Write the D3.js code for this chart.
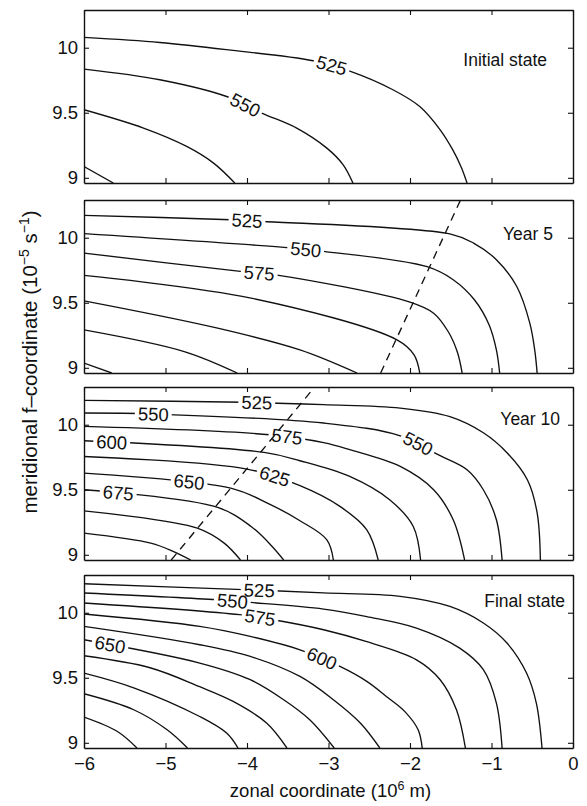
<!DOCTYPE html>
<html>
<head>
<meta charset="utf-8">
<script src="https://cdn.jsdelivr.net/npm/d3@7"></script>
<style>
  body { margin: 0; background: #fff; }
  svg text { font-family: "Liberation Sans", Arial, Helvetica, sans-serif; fill: #111; }
</style>
</head>
<body>
<svg id="chart" width="587" height="806"></svg>
<script>
// ---- data: contour lines of each state, as [zonal x (10^6 m), f (10^-5 s^-1)] ----
const initialContours = [
  { level: 525, pts: [[-6, 10.079], [-5.07, 10.04], [-4.25, 9.985], [-3.19, 9.90], [-2.73, 9.818], [-2.21, 9.677], [-1.88, 9.548], [-1.63, 9.369], [-1.48, 9.22], [-1.37, 9.08], [-1.30, 8.96]] },
  { level: 550, pts: [[-6, 9.836], [-5.07, 9.754], [-4.25, 9.625], [-3.82, 9.498], [-3.39, 9.382], [-3.02, 9.228], [-2.82, 9.10], [-2.70, 8.96]] },
  { level: 575, pts: [[-6, 9.523], [-5.27, 9.382], [-4.74, 9.241], [-4.41, 9.113], [-4.15, 8.96]] },
  { level: 600, pts: [[-6, 9.087], [-5.64, 8.96]] }
];
const initialLabels = [[525, -2.96], [550, -4.02]];

const year5Contours = [
  { level: 525, pts: [[-6, 10.172], [-4.20, 10.138], [-3.79, 10.125], [-1.50, 10.028], [-1.22, 9.959], [-0.94, 9.831], [-0.69, 9.625], [-0.53, 9.344], [-0.47, 9.138], [-0.44, 8.96]] },
  { level: 550, pts: [[-6, 10.031], [-3.46, 9.921], [-3.06, 9.895], [-1.79, 9.777], [-1.47, 9.677], [-1.21, 9.523], [-1.03, 9.331], [-0.94, 9.138], [-0.90, 8.96]] },
  { level: 575, pts: [[-6, 9.882], [-4.08, 9.741], [-3.65, 9.715], [-2.0, 9.505], [-1.71, 9.42], [-1.53, 9.277], [-1.42, 9.123], [-1.36, 8.96]] },
  { level: 600, pts: [[-6, 9.71], [-3.95, 9.536], [-2.16, 9.215], [-1.95, 9.10], [-1.88, 8.96]] },
  { level: 625, pts: [[-6, 9.515], [-4.36, 9.305], [-3.35, 9.138], [-2.65, 8.96]] },
  { level: 650, pts: [[-6, 9.292], [-4.77, 9.125], [-4.12, 8.96]] },
  { level: 675, pts: [[-6, 9.036], [-5.66, 8.96]] }
];
const year5Labels = [[525, -4.0], [550, -3.28], [575, -3.85]];
const year5Front = [[-2.36, 8.96], [-1.38, 10.29]];

const year10Contours = [
  { level: 525, pts: [[-6, 10.187], [-4.04, 10.173], [-3.06, 10.154], [-2.12, 10.128], [-1.51, 10.062], [-1.10, 9.938], [-0.81, 9.785], [-0.56, 9.577], [-0.44, 9.323], [-0.40, 8.96]] },
  { level: 550, pts: [[-6, 10.09], [-5.15, 10.082], [-3.06, 10.013], [-2.12, 9.915], [-1.63, 9.762], [-1.30, 9.654], [-1.10, 9.50], [-0.94, 9.269], [-0.87, 8.96]] },
  { level: 575, pts: [[-6, 9.987], [-3.72, 9.923], [-3.06, 9.862], [-2.74, 9.808], [-2.12, 9.679], [-1.71, 9.50], [-1.47, 9.269], [-1.33, 8.96]] },
  { level: 600, pts: [[-6, 9.877], [-3.79, 9.787], [-3.35, 9.723], [-2.74, 9.602], [-2.25, 9.423], [-1.96, 9.218], [-1.87, 8.96]] },
  { level: 625, pts: [[-6, 9.756], [-4.0, 9.659], [-3.35, 9.531], [-2.86, 9.372], [-2.53, 9.192], [-2.39, 8.96]] },
  { level: 650, pts: [[-6, 9.628], [-4.20, 9.513], [-3.75, 9.398], [-3.35, 9.262], [-3.02, 9.115], [-2.94, 8.96]] },
  { level: 675, pts: [[-6, 9.50], [-4.36, 9.364], [-3.95, 9.218], [-3.70, 9.07], [-3.55, 8.96]] },
  { level: 700, pts: [[-6, 9.338], [-4.61, 9.205], [-4.28, 9.09], [-4.08, 8.96]] },
  { level: 725, pts: [[-6, 9.167], [-5.18, 9.09], [-4.90, 9.025], [-4.69, 8.96]] }
];
const year10Labels = [[525, -3.88], [550, -5.15], [550, -1.90], [575, -3.51], [600, -5.66], [625, -3.66], [650, -4.71], [675, -5.58]];
const year10Front = [[-4.93, 8.96], [-3.17, 10.29]];

const finalContours = [
  { level: 525, pts: [[-6, 10.223], [-4.04, 10.177], [-3.67, 10.169], [-3.06, 10.152], [-2.12, 10.126], [-1.51, 10.048], [-1.10, 9.921], [-0.81, 9.767], [-0.57, 9.536], [-0.45, 9.305], [-0.38, 8.96]] },
  { level: 550, pts: [[-6, 10.152], [-4.37, 10.10], [-4.0, 10.081], [-3.06, 10.028], [-2.53, 9.97], [-1.92, 9.882], [-1.39, 9.728], [-1.10, 9.562], [-0.94, 9.305], [-0.87, 8.96]] },
  { level: 575, pts: [[-6, 10.075], [-4.09, 9.985], [-3.64, 9.942], [-3.06, 9.869], [-2.53, 9.777], [-1.92, 9.638], [-1.63, 9.485], [-1.43, 9.254], [-1.32, 8.96]] },
  { level: 600, pts: [[-6, 9.99], [-4.58, 9.895], [-3.96, 9.818], [-3.35, 9.715], [-2.86, 9.587], [-2.53, 9.472], [-2.29, 9.356], [-2.06, 9.238], [-1.90, 9.10], [-1.85, 8.96]] },
  { level: 625, pts: [[-6, 9.895], [-4.58, 9.754], [-3.96, 9.664], [-3.35, 9.51], [-2.94, 9.331], [-2.61, 9.152], [-2.37, 8.96]] },
  { level: 650, pts: [[-6, 9.792], [-4.58, 9.613], [-3.96, 9.485], [-3.55, 9.331], [-3.23, 9.177], [-2.93, 8.96]] },
  { level: 675, pts: [[-6, 9.669], [-5.19, 9.577], [-4.58, 9.431], [-4.17, 9.318], [-3.76, 9.152], [-3.51, 8.96]] },
  { level: 700, pts: [[-6, 9.536], [-5.39, 9.423], [-4.58, 9.202], [-4.25, 9.075], [-4.11, 8.96]] },
  { level: 725, pts: [[-6, 9.377], [-5.39, 9.254], [-4.98, 9.10], [-4.73, 8.96]] },
  { level: 750, pts: [[-6, 9.198], [-5.59, 9.087], [-5.35, 8.96]] }
];
const finalLabels = [[525, -3.85], [550, -4.18], [575, -3.84], [600, -3.08], [650, -5.68]];

const panelTitles = ["Initial state", "Year 5", "Year 10", "Final state"];
const xTicks = [-6, -5, -4, -3, -2, -1, 0];
const xTickLabels = ["\u22126", "\u22125", "\u22124", "\u22123", "\u22122", "\u22121", "0"];
const yTicks = [9, 9.5, 10];
const yTickLabels = ["9", "9.5", "10"];
const xDomain = [-6, 0];
const yDomain = [8.96, 10.29];

// ---- layout ----
const W = 587, H = 806;
const plotLeft = 84, plotRight = 573, panelH = 173;
const panelTops = [10, 200, 387, 575];
const titleAnchors = [[547, 56], [553, 40], [560, 38], [565, 32]]; // right end, baseline offset from panel top
const fontSize = 18.5;
const lineW = 1.35;

const panels = [
  { title: panelTitles[0], contours: initialContours, labels: initialLabels, front: null },
  { title: panelTitles[1], contours: year5Contours, labels: year5Labels, front: year5Front },
  { title: panelTitles[2], contours: year10Contours, labels: year10Labels, front: year10Front },
  { title: panelTitles[3], contours: finalContours, labels: finalLabels, front: null }
];

const svg = d3.select("#chart");
const defs = svg.append("defs");
const x = d3.scaleLinear().domain(xDomain).range([plotLeft, plotRight]);

panels.forEach((p, i) => {
  const top = panelTops[i];
  const bottom = top + panelH;
  const y = d3.scaleLinear().domain(yDomain).range([bottom, top]);
  const g = svg.append("g");

  const clipId = "clip" + i;
  defs.append("clipPath").attr("id", clipId)
    .append("rect").attr("x", plotLeft).attr("y", top)
    .attr("width", plotRight - plotLeft).attr("height", panelH);

  const line = d3.line()
    .x(d => x(d[0])).y(d => y(d[1]))
    .curve(d3.curveCatmullRom.alpha(0.5));

  const cg = g.append("g").attr("clip-path", `url(#${clipId})`);

  p.contours.forEach((c, ci) => {
    const path = cg.append("path")
      .attr("d", line(c.pts))
      .attr("fill", "none")
      .attr("stroke", "#111")
      .attr("stroke-width", lineW)
      .attr("stroke-linejoin", "round");

    const myLabels = p.labels.filter(l => l[0] === c.level);
    if (!myLabels.length) return;

    const node = path.node();
    const total = node.getTotalLength();
    const maskId = `m${i}_${ci}`;
    const mask = defs.append("mask").attr("id", maskId)
      .attr("maskUnits", "userSpaceOnUse")
      .attr("x", 0).attr("y", 0).attr("width", W).attr("height", H);
    mask.append("rect").attr("x", 0).attr("y", 0).attr("width", W).attr("height", H).attr("fill", "#fff");

    myLabels.forEach(l => {
      // locate the point of the contour at the label's zonal position
      const tx = x(l[1]);
      let lo = 0, hi = total;
      for (let k = 0; k < 40; k++) {
        const mid = (lo + hi) / 2;
        if (node.getPointAtLength(mid).x < tx) lo = mid; else hi = mid;
      }
      const len = (lo + hi) / 2;
      const pt = node.getPointAtLength(len);
      const a = node.getPointAtLength(Math.max(0, len - 5));
      const b = node.getPointAtLength(Math.min(total, len + 5));
      const ang = Math.atan2(b.y - a.y, b.x - a.x) * 180 / Math.PI;

      const t = g.append("text")
        .attr("transform", `translate(${pt.x},${pt.y}) rotate(${ang})`)
        .attr("text-anchor", "middle")
        .attr("dy", "0.36em")
        .attr("font-size", fontSize)
        .text(l[0]);
      const w = t.node().getComputedTextLength();
      mask.append("rect")
        .attr("x", -w / 2 - 3).attr("y", -7)
        .attr("width", w + 6).attr("height", 14)
        .attr("transform", `translate(${pt.x},${pt.y}) rotate(${ang})`)
        .attr("fill", "#000");
    });
    path.attr("mask", `url(#${maskId})`);
  });

  if (p.front) {
    cg.append("path")
      .attr("d", d3.line().x(d => x(d[0])).y(d => y(d[1]))(p.front))
      .attr("fill", "none")
      .attr("stroke", "#111")
      .attr("stroke-width", lineW)
      .attr("stroke-dasharray", "8,6");
  }

  // frame with inward ticks
  const styleAxis = sel => {
    sel.selectAll("path.domain").attr("stroke", "#111").attr("stroke-width", 1.4);
    sel.selectAll(".tick line").attr("stroke", "#111").attr("stroke-width", 1.1);
    sel.attr("font-family", null).attr("font-size", null);
    sel.selectAll("text").attr("font-size", fontSize).attr("fill", "#111");
  };

  g.append("g").attr("transform", `translate(0,${top})`)
    .call(d3.axisTop(x).tickValues(xTicks).tickSizeInner(-5).tickSizeOuter(0).tickFormat(""))
    .call(styleAxis);
  g.append("g").attr("transform", `translate(${plotRight},0)`)
    .call(d3.axisRight(y).tickValues(yTicks).tickSizeInner(-5).tickSizeOuter(0).tickFormat(""))
    .call(styleAxis);
  g.append("g").attr("transform", `translate(${plotLeft},0)`)
    .call(d3.axisLeft(y).tickValues(yTicks).tickSizeInner(-5).tickSizeOuter(0).tickPadding(6)
      .tickFormat((d, k) => yTickLabels[k]))
    .call(styleAxis);
  const last = i === panels.length - 1;
  g.append("g").attr("transform", `translate(0,${bottom})`)
    .call(d3.axisBottom(x).tickValues(xTicks).tickSizeInner(-5).tickSizeOuter(0).tickPadding(9)
      .tickFormat((d, k) => last ? xTickLabels[k] : ""))
    .call(styleAxis);

  // panel title
  g.append("text")
    .attr("x", titleAnchors[i][0]).attr("y", top + titleAnchors[i][1])
    .attr("text-anchor", "end")
    .attr("font-size", 17.5)
    .text(p.title);
});

// axis titles
const xl = svg.append("text")
  .attr("x", (plotLeft + plotRight) / 2 + 2).attr("y", 797)
  .attr("text-anchor", "middle").attr("font-size", fontSize);
xl.append("tspan").text("zonal coordinate (10");
xl.append("tspan").attr("dy", -7).attr("font-size", 12.5).text("6");
xl.append("tspan").attr("dy", 7).text(" m)");

const yl = svg.append("text")
  .attr("transform", "translate(37,362) rotate(-90)")
  .attr("text-anchor", "middle").attr("font-size", 20.5);
yl.append("tspan").text("meridional f\u2013coordinate (10");
yl.append("tspan").attr("dy", -8).attr("font-size", 14).text("\u22125");
yl.append("tspan").attr("dy", 8).text(" s");
yl.append("tspan").attr("dy", -8).attr("font-size", 14).text("\u22121");
yl.append("tspan").attr("dy", 8).text(")");
</script>
</body>
</html>
